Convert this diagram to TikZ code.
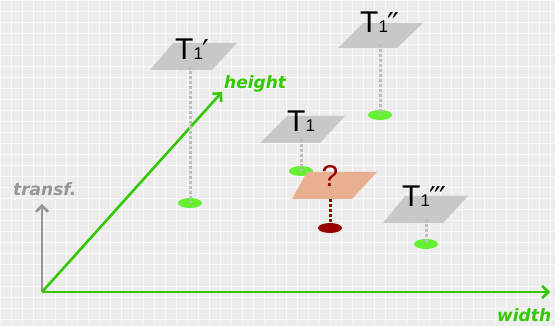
\documentclass[tikz,border=0pt]{standalone}
\usepackage{fontspec}
\setmainfont{Liberation Sans}
\newfontfamily\dv{DejaVu Sans}
\newfontfamily\dvbo{DejaVu Sans}[BoldItalicFont={DejaVu Sans Bold Oblique}]
\usetikzlibrary{arrows.meta,shapes.geometric}
\definecolor{axgreen}{RGB}{51,200,0}
\definecolor{axgrey}{RGB}{150,150,150}
\definecolor{plgrey}{RGB}{200,200,200}
\definecolor{plorange}{RGB}{232,176,144}
\definecolor{dkred}{RGB}{153,0,0}
\definecolor{dotgreen}{RGB}{102,240,51}
\definecolor{dotline}{RGB}{190,190,190}
\definecolor{bg}{RGB}{236,236,236}
\newcommand{\subone}{{\fontsize{17}{17}\selectfont 1}}
\newcommand{\primes}[1]{{\dv\fontsize{30}{30}\selectfont\raisebox{-2pt}{#1}}}
\tikzset{
  axis/.style={line width=2.6pt, -{Straight Barb[length=6pt,width=12pt,line width=2.6pt]}},
  axlabel/.style={font={\dvbo\bfseries\itshape\fontsize{17}{17}\selectfont}, inner sep=0},
  tlabel/.style={font={\fontsize{30}{30}\selectfont}, inner sep=0, anchor=base west},
  plane/.style={fill=plgrey, draw=none},
  drop/.style={line width=3pt, dash pattern=on 3pt off 2pt, dotline},
  spot/.style={ellipse, fill=dotgreen, minimum width=24pt, minimum height=10pt, inner sep=0},
}
\begin{document}
\begin{tikzpicture}[x=1pt,y=-1pt]
\useasboundingbox (0,0) rectangle (555,326);
\fill[bg] (0,0) rectangle (555,326);
\draw[white, line width=0.8pt, opacity=0.7, step=11pt] (0,0) grid (555,326);
% axes
\coordinate (O) at (42,292);
\coordinate (W) at (550,292);
\coordinate (H) at (222,92);
\coordinate (Tr) at (42,204);
\draw[axis, axgrey] (O) -- (Tr);
\draw[axis, axgreen] (O) -- (W);
\draw[axis, axgreen] (O) -- (H);
\node[axlabel, text=axgrey, anchor=base west] (ltr) at (13,196) {transf.};
\node[axlabel, text=axgreen, anchor=base west] (lh) at (224,89) {height};
\node[axlabel, text=axgreen, anchor=base west] (lw) at (497,321) {width};
% T1'
\fill[plane] (150,70) -- (212,70) -- (237,43) -- (173,43) -- cycle;
\node[tlabel] (t1p) at (175,60) {T\subone\primes{′}};
\coordinate (c1) at (190,66);
\node[spot] (e1) at (190,203) {};
\draw[drop] (c1) -- (e1.center);
% T1''
\fill[plane] (338,48) -- (397,48) -- (423,23) -- (363,23) -- cycle;
\node[tlabel] (t1pp) at (360,33) {T\subone\primes{′\kern-2pt′}};
\coordinate (c2) at (380,44);
\node[spot] (e2) at (380,115) {};
\draw[drop] (c2) -- (e2.center);
% T1
\fill[plane] (260,143) -- (320,143) -- (345,116) -- (287,116) -- cycle;
\node[tlabel] (t1) at (287,132) {T\subone};
\coordinate (c3) at (301,139);
\node[spot] (e3) at (301,171) {};
\draw[drop] (c3) -- (e3.center);
% ?
\fill[plorange] (292,199) -- (352,199) -- (377,172) -- (307,172) -- cycle;
\node[font={\fontsize{30}{30}\selectfont}, text=dkred, inner sep=0, anchor=base] (q) at (330,187) {?};
\coordinate (c4) at (330,199);
\node[spot, fill=dkred] (e4) at (330,228) {};
\draw[drop, dkred] (c4) -- (e4.center);
% T1'''
\fill[plane] (383,223) -- (443,223) -- (468,196) -- (405,196) -- cycle;
\node[tlabel] (t1ppp) at (402,207) {T\subone\primes{′\kern-2pt′\kern-2pt′}};
\coordinate (c5) at (426,219);
\node[spot] (e5) at (426,244) {};
\draw[drop] (c5) -- (e5.center);
\end{tikzpicture}
\end{document}
